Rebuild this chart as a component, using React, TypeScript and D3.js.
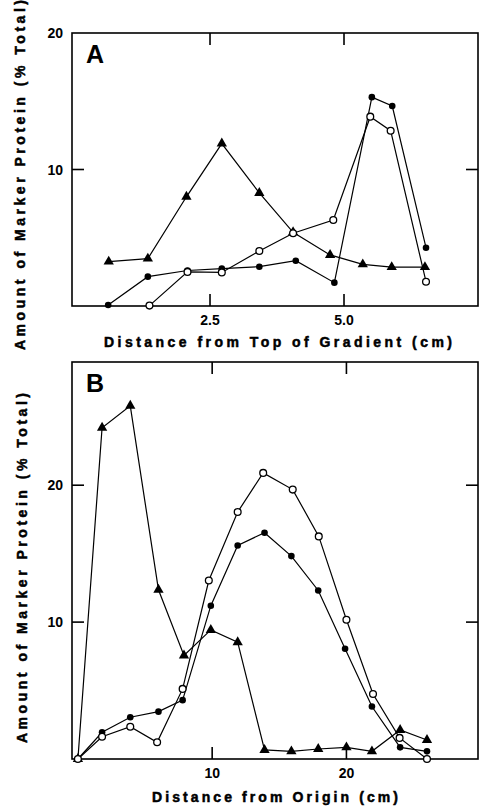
import * as d3 from 'd3'

// Panel A: distance from top of gradient (cm)
const aTriX = [0.61, 1.34, 2.06, 2.72, 3.42, 4.05, 4.74, 5.35, 5.89, 6.51]
const aTriY = [3.25, 3.47, 8.0, 11.9, 8.28, 5.4, 3.74, 3.05, 2.85, 2.85]
const aFillX = [0.6, 1.34, 2.08, 2.72, 3.42, 4.1, 4.82, 5.52, 5.9, 6.53]
const aFillY = [0.07, 2.15, 2.6, 2.74, 2.88, 3.32, 1.71, 15.3, 14.65, 4.27]
const aOpenX = [1.37, 2.08, 2.72, 3.42, 4.05, 4.8, 5.49, 5.87, 6.53]
const aOpenY = [0.03, 2.5, 2.46, 4.03, 5.33, 6.3, 13.87, 12.84, 1.78]
const aXTicks = [2.5, 5.0]
const aXTickLabels = ['2.5', '5.0']
const aYTicks = [10, 20]

// Panel B: distance from origin (cm)
const bTriX = [0, 1.8, 3.9, 6.0, 7.9, 9.9, 11.9, 13.9, 15.9, 17.9, 20.0, 21.9, 24.0, 26.0]
const bTriY = [0, 24.2, 25.8, 12.36, 7.56, 9.43, 8.53, 0.66, 0.56, 0.73, 0.85, 0.56, 2.12, 1.39]
const bFillX = [0, 1.8, 3.9, 6.0, 7.8, 9.9, 11.9, 13.9, 15.9, 17.9, 19.9, 21.9, 24.0, 26.0]
const bFillY = [0, 1.95, 3.05, 3.46, 4.3, 11.2, 15.6, 16.53, 14.82, 12.31, 8.05, 3.83, 0.85, 0.56]
const bOpenX = [0, 1.8, 3.9, 5.9, 7.8, 9.75, 11.9, 13.8, 16.0, 17.94, 20.0, 21.98, 23.96, 26.0]
const bOpenY = [0, 1.63, 2.36, 1.22, 5.12, 13.04, 18.04, 20.9, 19.68, 16.26, 10.17, 4.75, 1.54, 0]
const bXTicks = [10, 20]
const bYTicks = [10, 20]

const font = '"Liberation Sans", Arial, Helvetica, sans-serif'

type Pt = [number, number]
const zip = (xs: number[], ys: number[]): Pt[] => xs.map((x, i) => [x, ys[i]])

function Panel(props: {
  letter: string
  left: number
  right: number
  top: number
  bottom: number
  xDomain: [number, number]
  yDomain: [number, number]
  xTicks: number[]
  xLabels: string[]
  yTicks: number[]
  yLabels: string[]
  tri: Pt[]
  fill: Pt[]
  open: Pt[]
  xTitle: string
  xTitleX: number
  xTitleY: number
  xTitleLen: number
  yTitleX: number
  yTitleY: number
}) {
  const p = props
  const x = d3.scaleLinear().domain(p.xDomain).range([p.left, p.right])
  const y = d3.scaleLinear().domain(p.yDomain).range([p.bottom, p.top])
  const line = d3
    .line<Pt>()
    .x((d) => x(d[0]))
    .y((d) => y(d[1]))
  const triPath = d3.symbol(d3.symbolTriangle, 46)()
  const tl = 12

  return (
    <g>
      <rect
        x={p.left}
        y={p.top}
        width={p.right - p.left}
        height={p.bottom - p.top}
        fill="none"
        stroke="#000"
        strokeWidth={1.6}
      />
      {p.xTicks.map((t, i) => (
        <g key={'x' + i}>
          <line x1={x(t)} x2={x(t)} y1={p.bottom} y2={p.bottom - tl} stroke="#000" strokeWidth={1.6} />
          <line x1={x(t)} x2={x(t)} y1={p.top} y2={p.top + tl} stroke="#000" strokeWidth={1.6} />
          <text
            x={x(t)}
            y={p.bottom + 19}
            textAnchor="middle"
            fontSize={14}
            fontWeight="bold"
            fontFamily={font}
          >
            {p.xLabels[i]}
          </text>
        </g>
      ))}
      {p.yTicks.map((t, i) => (
        <g key={'y' + i}>
          {y(t) > p.top + 2 && (
            <>
              <line x1={p.left} x2={p.left + tl} y1={y(t)} y2={y(t)} stroke="#000" strokeWidth={1.6} />
              <line x1={p.right} x2={p.right - tl} y1={y(t)} y2={y(t)} stroke="#000" strokeWidth={1.6} />
            </>
          )}
          <text
            x={p.left - 9}
            y={y(t) + 5}
            textAnchor="end"
            fontSize={14}
            fontWeight="bold"
            fontFamily={font}
          >
            {p.yLabels[i]}
          </text>
        </g>
      ))}
      <text x={p.left + 14} y={p.top + 30} fontSize={25} fontWeight="bold" fontFamily={font}>
        {p.letter}
      </text>
      <text
        x={p.xTitleX}
        y={p.xTitleY}
        fontSize={14}
        fontWeight="bold"
        fontFamily={font}
        stroke="#000"
        strokeWidth={0.5}
        textLength={p.xTitleLen}
        lengthAdjust="spacing"
      >
        {p.xTitle}
      </text>
      <text
        transform={`translate(${p.yTitleX},${p.yTitleY}) rotate(-90)`}
        fontSize={14}
        fontWeight="bold"
        fontFamily={font}
        stroke="#000"
        strokeWidth={0.5}
        textLength={350}
        lengthAdjust="spacing"
      >
        Amount of Marker Protein (% Total)
      </text>

      <path d={line(p.tri) ?? ''} fill="none" stroke="#000" strokeWidth={1.2} />
      <path d={line(p.fill) ?? ''} fill="none" stroke="#000" strokeWidth={1.2} />
      <path d={line(p.open) ?? ''} fill="none" stroke="#000" strokeWidth={1.2} />
      {p.tri.map((d, i) => (
        <path key={'t' + i} d={triPath ?? ''} transform={`translate(${x(d[0])},${y(d[1])})`} fill="#000" />
      ))}
      {p.fill.map((d, i) => (
        <circle key={'f' + i} cx={x(d[0])} cy={y(d[1])} r={3.3} fill="#000" />
      ))}
      {p.open.map((d, i) => (
        <circle key={'o' + i} cx={x(d[0])} cy={y(d[1])} r={3.4} fill="#fff" stroke="#000" strokeWidth={1.3} />
      ))}
    </g>
  )
}

export default function App() {
  return (
    <svg
      width={480}
      height={806}
      style={{ position: 'absolute', left: 0, top: 0, background: '#fff' }}
    >
      <rect width={480} height={806} fill="#fff" />
      <Panel
        letter="A"
        left={72}
        right={478}
        top={33}
        bottom={306}
        xDomain={[-0.075, 7.5]}
        yDomain={[0, 20]}
        xTicks={aXTicks}
        xLabels={aXTickLabels}
        yTicks={aYTicks}
        yLabels={aYTicks.map(String)}
        tri={zip(aTriX, aTriY)}
        fill={zip(aFillX, aFillY)}
        open={zip(aOpenX, aOpenY)}
        xTitle="Distance from Top of Gradient (cm)"
        xTitleX={104}
        xTitleY={347}
        xTitleLen={348}
        yTitleX={25}
        yTitleY={350}
      />
      <Panel
        letter="B"
        left={72}
        right={478}
        top={362}
        bottom={759}
        xDomain={[-0.44, 29.8]}
        yDomain={[0, 29]}
        xTicks={bXTicks}
        xLabels={bXTicks.map(String)}
        yTicks={bYTicks}
        yLabels={bYTicks.map(String)}
        tri={zip(bTriX, bTriY)}
        fill={zip(bFillX, bFillY)}
        open={zip(bOpenX, bOpenY)}
        xTitle="Distance from Origin (cm)"
        xTitleX={152}
        xTitleY={802}
        xTitleLen={246}
        yTitleX={27}
        yTitleY={743}
      />
    </svg>
  )
}
